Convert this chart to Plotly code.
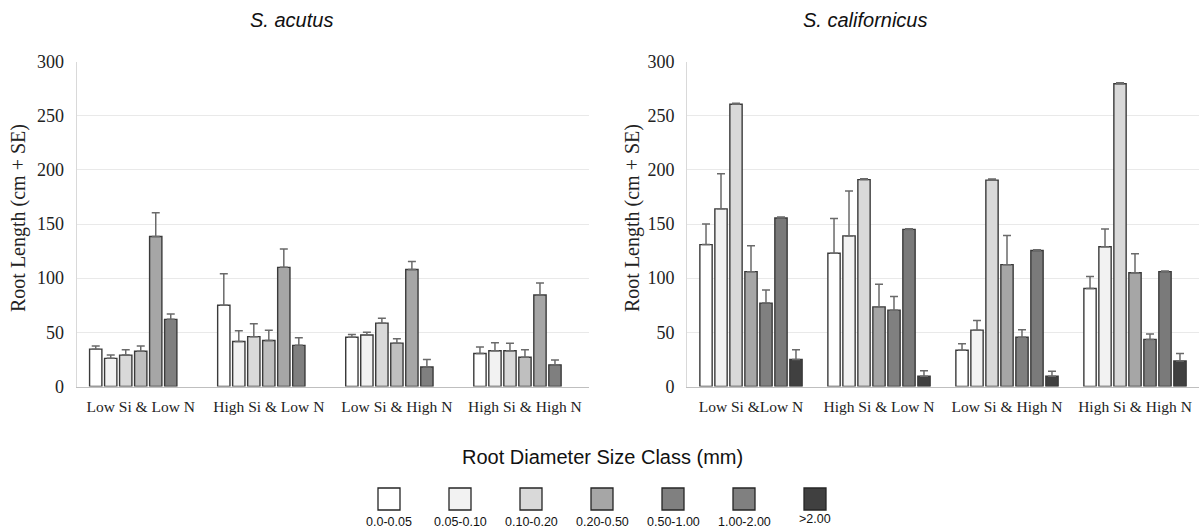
import plotly.graph_objects as go

# ---------------- data ----------------
categories_left = ["Low Si & Low N", "High Si & Low N", "Low Si & High N", "High Si & High N"]
categories_right = ["Low Si &Low N", "High Si & Low N", "Low Si & High N", "High Si & High N"]
size_classes = ["0.0-0.05", "0.05-0.10", "0.10-0.20", "0.20-0.50", "0.50-1.00", "1.00-2.00", ">2.00"]

acutus_mean = [
    [34.5, 75.0, 45.5, 30.5],
    [26.0, 41.5, 47.5, 33.0],
    [29.0, 46.0, 58.5, 33.0],
    [32.5, 42.5, 40.0, 27.0],
    [138.5, 110.0, 108.0, 84.5],
    [62.0, 38.0, 18.0, 20.0],
    [None, None, None, None],
]
acutus_se = [
    [3.0, 29.0, 2.5, 6.0],
    [3.0, 10.0, 2.5, 7.5],
    [5.0, 12.0, 4.5, 7.0],
    [5.0, 9.5, 4.0, 7.0],
    [22.0, 17.0, 7.5, 11.0],
    [5.0, 7.0, 7.0, 4.5],
    [0, 0, 0, 0],
]
californicus_mean = [
    [131.0, 123.0, 33.5, 90.5],
    [164.0, 139.0, 52.0, 129.0],
    [260.5, 191.0, 190.5, 279.5],
    [106.0, 73.5, 112.5, 105.0],
    [77.0, 70.5, 45.5, 43.5],
    [155.5, 145.0, 125.5, 106.0],
    [25.0, 9.5, 9.5, 23.5],
]
californicus_se = [
    [19.0, 32.0, 6.0, 11.0],
    [32.5, 41.5, 9.0, 16.5],
    [1.0, 0.8, 1.0, 0.8],
    [24.0, 21.0, 27.0, 17.5],
    [12.0, 12.5, 7.0, 5.0],
    [1.0, 0.7, 0.7, 0.7],
    [9.0, 5.0, 4.5, 7.0],
]

colors_left = ["#FFFFFF", "#F2F2F2", "#D9D9D9", "#BFBFBF", "#A6A6A6", "#7F7F7F", "#404040"]
colors_right = ["#FFFFFF", "#F2F2F2", "#D9D9D9", "#A6A6A6", "#808080", "#7A7A7A", "#404040"]
colors_legend = ["#FFFFFF", "#F2F2F2", "#D9D9D9", "#A6A6A6", "#808080", "#808080", "#404040"]

W, H = 1204, 531
SERIF = "Liberation Serif, Times New Roman, serif"
SANS = "Liberation Sans, Arial, sans-serif"

fig = go.Figure()

def add_panel(cats, means, ses, colors, xa, ya):
    for i, name in enumerate(size_classes):
        fig.add_trace(go.Bar(
            x=cats, y=means[i], name=name, xaxis=xa, yaxis=ya,
            marker=dict(color=colors[i], line=dict(color="#3A3A3A", width=1.4)),
            error_y=dict(type="data", symmetric=False, array=ses[i],
                         arrayminus=[0] * len(cats), color="#6A6A6A",
                         thickness=1.5, width=4),
            showlegend=False,
        ))

add_panel(categories_left, acutus_mean, acutus_se, colors_left, "x", "y")
add_panel(categories_right, californicus_mean, californicus_se, colors_right, "x2", "y2")

ydom = [1 - 386.5 / H, 1 - 61.5 / H]
xdom1 = [76.7 / W, 589.0 / W]
xdom2 = [687.0 / W, 1199.0 / W]

common_y = dict(range=[0, 300], dtick=50, showgrid=True, gridcolor="#E9E9E9", gridwidth=1,
                showline=True, linecolor="#D9D9D9", linewidth=1, zeroline=False,
                ticks="", tickfont=dict(family=SERIF, size=18, color="#222222"),
                ticklabelstandoff=8, domain=ydom, automargin=False)
common_x = dict(type="category", showline=True, linecolor="#BFBFBF", linewidth=1.3,
                ticks="", tickfont=dict(family=SERIF, size=15.5, color="#222222"),
                ticklabelstandoff=6, showgrid=False, automargin=False)

fig.update_layout(
    width=W, height=H,
    margin=dict(l=0, r=0, t=0, b=0, pad=0, autoexpand=False),
    paper_bgcolor="white", plot_bgcolor="white",
    barmode="group", bargap=0.18, bargroupgap=0.18,
    xaxis=dict(domain=xdom1, anchor="y", **common_x),
    yaxis=dict(anchor="x", **common_y),
    xaxis2=dict(domain=xdom2, anchor="y2", **common_x),
    yaxis2=dict(anchor="x2", **common_y),
    showlegend=False,
)

def ann(text, px, py, font, **kw):
    return dict(text=text, x=px / W, y=1 - py / H, xref="paper", yref="paper",
                xanchor="center", yanchor="middle", showarrow=False, font=font, **kw)

annotations = [
    ann("<i>S. acutus</i>", 291, 20, dict(family=SANS, size=20, color="#111111")),
    ann("<i>S. californicus</i>", 865, 20, dict(family=SANS, size=20, color="#111111")),
    ann("Root Length (cm + SE)", 18, 218, dict(family=SERIF, size=20, color="#222222"), textangle=-90),
    ann("Root Length (cm + SE)", 632, 218, dict(family=SERIF, size=20, color="#222222"), textangle=-90),
    ann("Root Diameter Size Class (mm)", 602, 457, dict(family=SANS, size=20, color="#111111")),
]

# legend drawn below the charts: square above each label
shapes = []
leg_x0, leg_step, sq = 389, 71, 22
for i, name in enumerate(size_classes):
    cx = leg_x0 + i * leg_step
    shapes.append(dict(type="rect", xref="paper", yref="paper",
                       x0=(cx - sq / 2) / W, x1=(cx + sq / 2) / W,
                       y0=1 - 510 / H, y1=1 - 488 / H,
                       fillcolor=colors_legend[i], line=dict(color="#262626", width=1.3)))
    annotations.append(ann(name, cx, 519 if name.startswith(">") else 522,
                           dict(family=SANS, size=12.5, color="#111111")))

fig.update_layout(annotations=annotations, shapes=shapes)
fig.write_html("out.html")
